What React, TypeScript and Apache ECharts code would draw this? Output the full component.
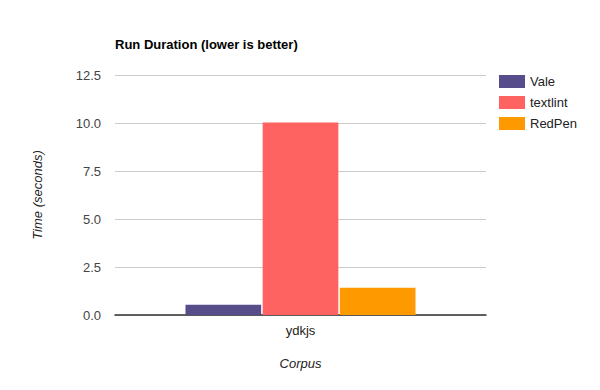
import React, { useEffect, useRef } from "react";
import * as echarts from "echarts";

const categories = ["ydkjs"];
const seriesNames = ["Vale", "textlint", "RedPen"];
const valeValues = [0.53];
const textlintValues = [10.03];
const redpenValues = [1.42];
const colors = ["#574d8a", "#ff6361", "#ff9900"];
const yTicks = { min: 0, max: 12.5, interval: 2.5 };

export default function App() {
  const ref = useRef<HTMLDivElement>(null);
  useEffect(() => {
    if (!ref.current) return;
    const chart = echarts.init(ref.current, null, { renderer: "svg" });
    const font = "Arial, 'Liberation Sans', sans-serif";
    const data = [valeValues, textlintValues, redpenValues];
    chart.setOption({
      animation: false,
      textStyle: { fontFamily: font },
      title: {
        text: "Run Duration (lower is better)",
        left: 115,
        top: 38,
        padding: 0,
        textStyle: { fontSize: 13, fontWeight: "bold", color: "#000", fontFamily: font },
      },
      legend: {
        orient: "vertical",
        left: 494,
        top: 70,
        itemWidth: 26,
        itemHeight: 13,
        itemGap: 8,
        icon: "rect",
        textStyle: { fontSize: 13, color: "#222", fontFamily: font },
        data: seriesNames,
      },
      grid: { left: 115, right: 114, top: 75, bottom: 75 },
      xAxis: {
        type: "category",
        data: categories,
        name: "Corpus",
        nameLocation: "middle",
        nameGap: 42,
        nameTextStyle: { fontStyle: "italic", fontSize: 13, color: "#222" },
        axisLine: { lineStyle: { color: "#333", width: 1.5 } },
        axisTick: { show: false },
        axisLabel: { fontSize: 13, color: "#222", margin: 9 },
      },
      yAxis: {
        type: "value",
        min: yTicks.min,
        max: yTicks.max,
        interval: yTicks.interval,
        name: "Time (seconds)",
        nameLocation: "middle",
        nameGap: 71,
        nameTextStyle: { fontStyle: "italic", fontSize: 13, color: "#222" },
        axisLine: { show: false },
        axisTick: { show: false },
        axisLabel: {
          fontSize: 13,
          color: "#444",
          margin: 14,
          formatter: (v: number) => v.toFixed(1),
        },
        splitLine: { lineStyle: { color: "#cccccc" } },
      },
      series: seriesNames.map((name, i) => ({
        name,
        type: "bar",
        data: data[i],
        itemStyle: { color: colors[i] },
        barGap: "2%",
        barCategoryGap: "38%",
      })),
    });
    return () => chart.dispose();
  }, []);
  return <div ref={ref} style={{ width: 600, height: 390, margin: -8 }} />;
}
